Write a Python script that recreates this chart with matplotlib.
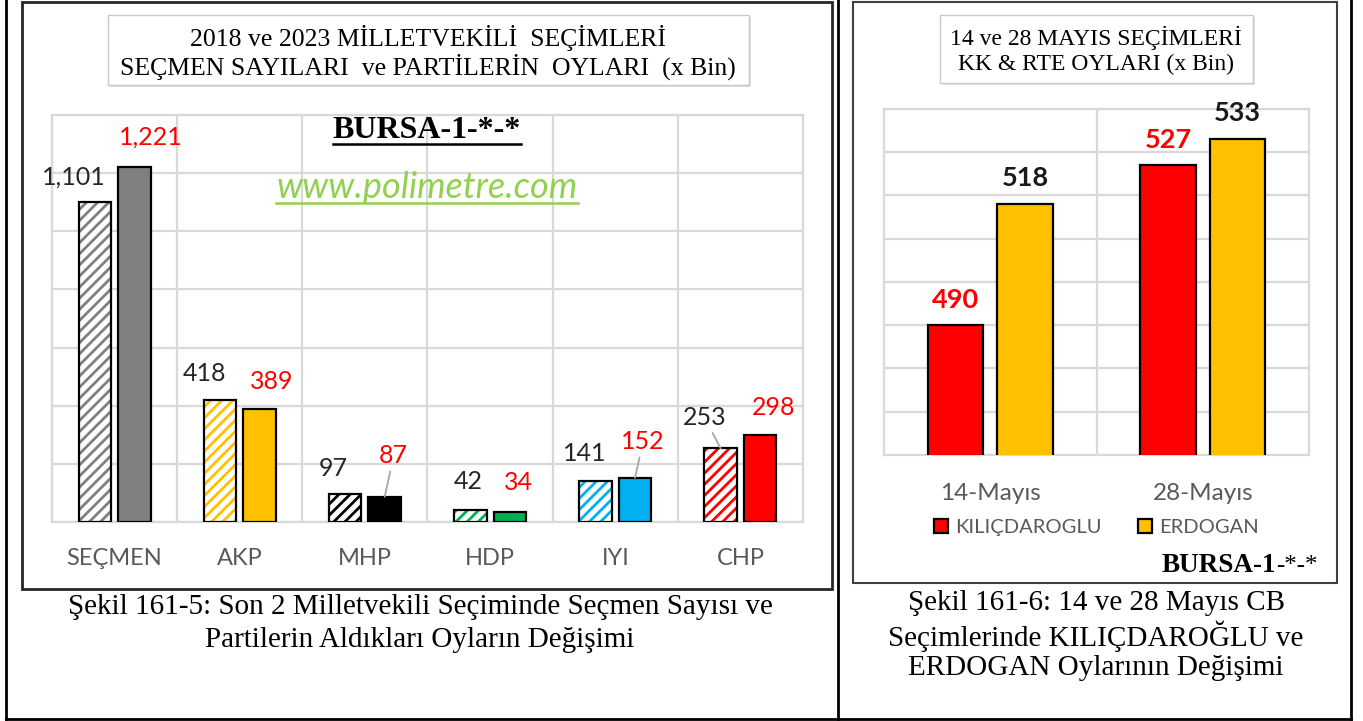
import numpy as np
import matplotlib.pyplot as plt
from matplotlib.patches import Rectangle
from matplotlib.lines import Line2D

# data (x Bin)
parties = ['SEÇMEN', 'AKP', 'MHP', 'HDP', 'IYI', 'CHP']
votes_2018 = [1101, 418, 97, 42, 141, 253]
votes_2023 = [1221, 389, 87, 34, 152, 298]
party_colors = ['#808080', '#FFC000', '#000000', '#00B050', '#00B0F0', '#FF0000']

rounds = ['14-Mayıs', '28-Mayıs']
kk_votes = [490, 527]
rte_votes = [518, 533]

W, H = 1363, 721
fig = plt.figure(figsize=(W / 100, H / 100), dpi=100)
plt.rcParams['hatch.linewidth'] = 2.0

def fx(x):
    return x / W

def fy(y):
    return 1 - y / H

def box(x0, y0, x1, y1, **kw):
    fig.add_artist(Rectangle((fx(x0), fy(y1)), (x1 - x0) / W, (y1 - y0) / H,
                             transform=fig.transFigure, **kw))

def line(xs, ys, **kw):
    fig.add_artist(Line2D([fx(x) for x in xs], [fy(y) for y in ys],
                          transform=fig.transFigure, **kw))

# outer table frame
line([6, 6], [0, 719], color='black', lw=2)
line([1351, 1351], [0, 719], color='black', lw=2)
line([838, 838], [0, 719], color='black', lw=2)
line([6, 1351], [719, 719], color='black', lw=2)

# chart frames
box(22, 2, 832, 589, fill=False, edgecolor='#262626', lw=2)
box(853, 2, 1337, 583, fill=False, edgecolor='#404040', lw=1.5)

# title boxes
box(110, 17, 751, 87, facecolor='#E4E4E4', edgecolor='none')
box(108, 15, 749, 85, facecolor='white', edgecolor='#C8C8C8', lw=1)
box(942, 17, 1255, 85, facecolor='#E4E4E4', edgecolor='none')
box(940, 15, 1253, 83, facecolor='white', edgecolor='#C8C8C8', lw=1)

serif = 'Liberation Serif'
sans = 'Lato'
grid_c = '#D9D9D9'

fig.text(fx(428), fy(38), '2018 ve 2023 MİLLETVEKİLİ  SEÇİMLERİ', family=serif,
         fontsize=18.5, ha='center', va='center')
fig.text(fx(428), fy(67), 'SEÇMEN SAYILARI  ve PARTİLERİN  OYLARI  (x Bin)', family=serif,
         fontsize=18.5, ha='center', va='center')
fig.text(fx(1096), fy(38), '14 ve 28 MAYIS SEÇİMLERİ', family=serif,
         fontsize=17, ha='center', va='center')
fig.text(fx(1096), fy(64), 'KK & RTE OYLARI (x Bin)', family=serif,
         fontsize=17, ha='center', va='center')

# ---------------- left chart ----------------
ax1 = fig.add_axes([fx(52), fy(522), (803 - 52) / W, (522 - 115) / H])
x = np.arange(len(parties))
bw = 0.26
off = 0.158
for i in range(len(parties)):
    ax1.bar(x[i] - off, votes_2018[i], bw, color='white', edgecolor=party_colors[i],
            hatch='///', lw=0, zorder=3)
    ax1.bar(x[i] - off, votes_2018[i], bw, fill=False, edgecolor='black', lw=1.6, zorder=4)
    ax1.bar(x[i] + off, votes_2023[i], bw, color=party_colors[i], edgecolor='black',
            lw=1.6, zorder=4)

ax1.set_xlim(-0.5, len(parties) - 0.5)
ax1.set_ylim(0, 1400)
ax1.set_yticks(np.arange(0, 1401, 200))
ax1.set_xticks(x)
ax1.set_xticklabels(parties, family=sans, fontsize=17, color='#595959')
ax1.set_xticks(np.arange(-0.5, len(parties), 1), minor=True)
ax1.tick_params(axis='both', which='both', length=0)
ax1.tick_params(axis='x', pad=19)
ax1.set_yticklabels([])
ax1.grid(True, axis='y', color=grid_c, lw=1.6, zorder=0)
ax1.grid(True, axis='x', which='minor', color=grid_c, lw=1.6, zorder=0)
for s in ax1.spines.values():
    s.set_color(grid_c)
    s.set_linewidth(1.6)

# label offsets in pixels (dx, dy up)
off18 = [(-21, 25), (-15, 27), (-12, 25), (-2, 28), (-11, 28), (-16, 31)]
off23 = [(16, 30), (12, 27), (9, 41), (9, 30), (8, 36), (13, 28)]
lead18 = [False, False, False, False, False, True]
lead23 = [False, False, True, False, True, False]
for i in range(len(parties)):
    for v, xo, o, lead, c in [(votes_2018[i], x[i] - off, off18[i], lead18[i], '#262626'),
                              (votes_2023[i], x[i] + off, off23[i], lead23[i], '#FF0000')]:
        ap = dict(arrowstyle='-', color='#A6A6A6', lw=1.3, shrinkA=1, shrinkB=0) if lead else None
        ax1.annotate(f'{v:,}', xy=(xo, v), xytext=(o[0] * 0.72, o[1] * 0.72),
                     textcoords='offset points', ha='center', va='center',
                     family=sans, fontsize=18, color=c, arrowprops=ap, zorder=6)

t_b1 = fig.text(fx(427), fy(131), 'BURSA-1-*-*', family=serif, fontweight='bold',
                fontsize=23, ha='center', va='center')
t_w = fig.text(fx(427), fy(188), 'www.polimetre.com', family=sans, style='italic',
               fontsize=26, color='#92D050', ha='center', va='center')

# ---------------- right chart ----------------
ax2 = fig.add_axes([fx(884), fy(455), (1309 - 884) / W, (455 - 109) / H])
x2 = np.arange(len(rounds))
bw2 = 0.26
off2 = 0.163
b_kk = ax2.bar(x2 - off2, kk_votes, bw2, color='#FF0000', edgecolor='black', lw=1.6,
               zorder=3, label='KILIÇDAROGLU')
b_rte = ax2.bar(x2 + off2, rte_votes, bw2, color='#FFC000', edgecolor='black', lw=1.6,
                zorder=3, label='ERDOGAN')
ax2.set_xlim(-0.5, len(rounds) - 0.5)
ax2.set_ylim(460, 540)
ax2.set_yticks(np.arange(460, 541, 10))
ax2.set_yticklabels([])
ax2.set_xticks(x2)
ax2.set_xticklabels(rounds, family=sans, fontsize=17.5, color='#595959')
ax2.set_xticks([0.5], minor=True)
ax2.tick_params(axis='both', which='both', length=0)
ax2.tick_params(axis='x', pad=20)
ax2.grid(True, axis='y', color=grid_c, lw=1.6, zorder=0)
ax2.grid(True, axis='x', which='minor', color=grid_c, lw=1.6, zorder=0)
for s in ax2.spines.values():
    s.set_color(grid_c)
    s.set_linewidth(1.6)

for i in range(len(rounds)):
    ax2.annotate(str(kk_votes[i]), xy=(x2[i] - off2, kk_votes[i]), xytext=(0, 25 * 0.72),
                 textcoords='offset points', ha='center', va='center', family=sans,
                 fontweight='bold', fontsize=19.5, color='#FF0000')
    ax2.annotate(str(rte_votes[i]), xy=(x2[i] + off2, rte_votes[i]), xytext=(0, 26 * 0.72),
                 textcoords='offset points', ha='center', va='center', family=sans,
                 fontweight='bold', fontsize=19.5, color='#1A1A1A')

leg = ax2.legend(handles=[b_kk, b_rte], loc='center', bbox_to_anchor=(0.5, -0.21),
                 ncol=2, frameon=False, handlelength=0.7, handleheight=0.7,
                 columnspacing=1.8, handletextpad=0.35,
                 prop={'family': sans, 'size': 14.5})
for t in leg.get_texts():
    t.set_color('#595959')

t_b2 = fig.text(fx(1318), fy(566), '-*-*', family=serif,
                fontsize=18, ha='right', va='center')

# captions
fig.text(fx(420), fy(607), 'Şekil 161-5: Son 2 Milletvekili Seçiminde Seçmen Sayısı ve',
         family=serif, fontsize=21, ha='center', va='center')
fig.text(fx(420), fy(640), 'Partilerin Aldıkları Oyların Değişimi',
         family=serif, fontsize=21, ha='center', va='center')
fig.text(fx(1096), fy(603), 'Şekil 161-6: 14 ve 28 Mayıs CB',
         family=serif, fontsize=21, ha='center', va='center')
fig.text(fx(1096), fy(636), 'Seçimlerinde KILIÇDAROĞLU ve',
         family=serif, fontsize=21, ha='center', va='center')
fig.text(fx(1096), fy(668), 'ERDOGAN Oylarının Değişimi',
         family=serif, fontsize=21, ha='center', va='center')

# underlines and the bold part of the right-hand tag
fig.canvas.draw()
r = fig.canvas.get_renderer()
for t, c, lw in [(t_b1, 'black', 1.8), (t_w, '#92D050', 1.8)]:
    bb = t.get_window_extent(r)
    fig.add_artist(Line2D([bb.x0 / W, bb.x1 / W], [(bb.y0 + 2) / H, (bb.y0 + 2) / H],
                          transform=fig.transFigure, color=c, lw=lw))
bb2 = t_b2.get_window_extent(r)
fig.text(bb2.x0 / W, fy(565), 'BURSA-1', family=serif, fontweight='bold',
         fontsize=19.5, ha='right', va='center')

fig.savefig('out.png', dpi=100)
